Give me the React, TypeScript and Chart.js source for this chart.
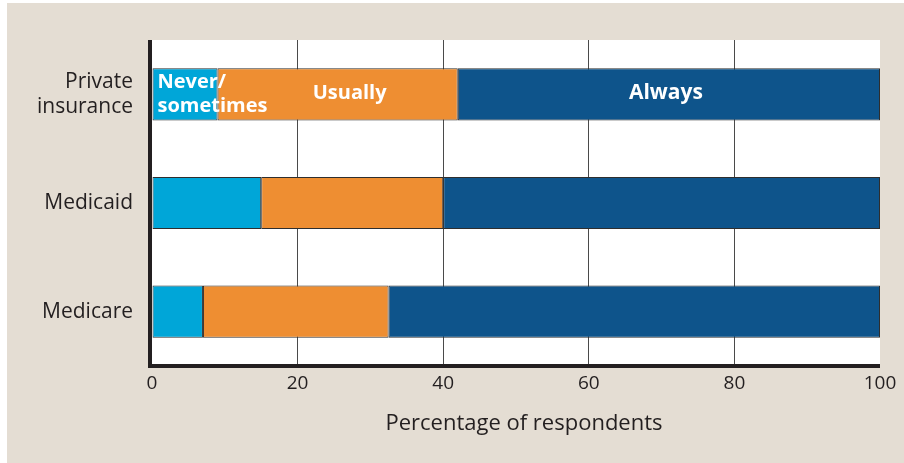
import React, { useEffect, useRef } from "react";
import { Chart, registerables } from "chart.js";

Chart.register(...registerables);

const categories: string[][] = [["Private", "insurance"], ["Medicaid"], ["Medicare"]];
const seriesNames = ["Never/sometimes", "Usually", "Always"];
const neverValues = [9, 15, 7];
const usuallyValues = [33, 25, 25.5];
const alwaysValues = [58, 60, 67.5];
const xTicks = [0, 20, 40, 60, 80, 100];
const xTitle = "Percentage of respondents";

const FONT = "'Open Sans', 'Noto Sans', sans-serif";
const TEXT = "#231f20";
const BEIGE = "#e4ddd3";

const bgPlugin = {
  id: "bg",
  beforeDraw(chart: any) {
    const { ctx, width, height, chartArea } = chart;
    ctx.save();
    ctx.fillStyle = "#ffffff";
    ctx.fillRect(0, 0, width, height);
    ctx.fillStyle = BEIGE;
    ctx.fillRect(7, 3, width - 7, height - 3);
    ctx.fillStyle = "#ffffff";
    ctx.fillRect(chartArea.left, chartArea.top, chartArea.right - chartArea.left, chartArea.bottom - chartArea.top);
    ctx.restore();
  },
  afterDraw(chart: any) {
    const { ctx, chartArea } = chart;
    ctx.save();
    ctx.fillStyle = TEXT;
    ctx.fillRect(chartArea.left - 4, chartArea.top, 4, chartArea.bottom - chartArea.top + 2);
    ctx.fillRect(chartArea.left - 4, chartArea.bottom - 2, chartArea.right - chartArea.left + 4, 4);
    // x-axis title
    ctx.font = `22px ${FONT}`;
    ctx.textAlign = "center";
    ctx.textBaseline = "middle";
    ctx.fillText(xTitle, (chartArea.left + chartArea.right) / 2 + 8, 424);
    ctx.restore();
  },
};

const labelPlugin = {
  id: "segLabels",
  afterDatasetsDraw(chart: any) {
    const { ctx } = chart;
    ctx.save();
    ctx.fillStyle = "#ffffff";
    ctx.font = `bold 20px ${FONT}`;
    ctx.textBaseline = "middle";
    const m0 = chart.getDatasetMeta(0).data[0];
    ctx.textAlign = "left";
    ctx.fillText("Never/", m0.base + 5, m0.y - 12);
    ctx.fillText("sometimes", m0.base + 5, m0.y + 12);
    ctx.textAlign = "center";
    const m1 = chart.getDatasetMeta(1).data[0];
    ctx.fillText(seriesNames[1], (m1.base + m1.x) / 2 + 12, m1.y - 1);
    ctx.font = `bold 21px ${FONT}`;
    const m2 = chart.getDatasetMeta(2).data[0];
    ctx.fillText(seriesNames[2], (m2.base + m2.x) / 2 - 3, m2.y - 1);
    ctx.restore();
  },
};

export default function App() {
  const ref = useRef<HTMLCanvasElement>(null);
  useEffect(() => {
    if (!ref.current) return;
    const common = { borderColor: "#2e2e2e", borderWidth: 1, borderSkipped: false, barPercentage: 0.48, categoryPercentage: 1 };
    const chart = new Chart(ref.current, {
      type: "bar",
      data: {
        labels: categories as any,
        datasets: [
          { label: seriesNames[0], data: neverValues, backgroundColor: "#00a6d8", ...common },
          { label: seriesNames[1], data: usuallyValues, backgroundColor: "#ee8e32", ...common },
          { label: seriesNames[2], data: alwaysValues, backgroundColor: "#0e548b", ...common },
        ],
      },
      options: {
        indexAxis: "y",
        responsive: false,
        animation: false,
        devicePixelRatio: 1,
        layout: { padding: { left: 0, right: 24, top: 40, bottom: 0 } },
        plugins: { legend: { display: false }, tooltip: { enabled: false } },
        scales: {
          x: {
            stacked: true,
            min: 0,
            max: 100,
            afterBuildTicks: (s: any) => {
              s.ticks = xTicks.map((v) => ({ value: v }));
            },
            afterFit: (s: any) => {
              s.height = 97;
            },
            border: { display: false },
            grid: {
              drawTicks: false,
              lineWidth: 1,
              color: (c: any) => (c.tick && (c.tick.value === 0 || c.tick.value === 100) ? "rgba(0,0,0,0)" : "#4a4a4a"),
            },
            ticks: { color: TEXT, font: { family: FONT, size: 19 }, padding: 6, maxRotation: 0 },
            title: { display: false },
          },
          y: {
            stacked: true,
            afterFit: (s: any) => {
              s.width = 152;
            },
            border: { display: false },
            grid: { display: false, drawTicks: false },
            ticks: { color: TEXT, font: { family: FONT, size: 21, lineHeight: 1.2 }, padding: 19 },
          },
        },
      },
      plugins: [bgPlugin, labelPlugin],
    } as any);
    return () => chart.destroy();
  }, []);
  return (
    <div style={{ position: "absolute", left: 0, top: 0, width: 904, height: 463 }}>
      <canvas ref={ref} width={904} height={463} style={{ display: "block", width: 904, height: 463 }} />
    </div>
  );
}
